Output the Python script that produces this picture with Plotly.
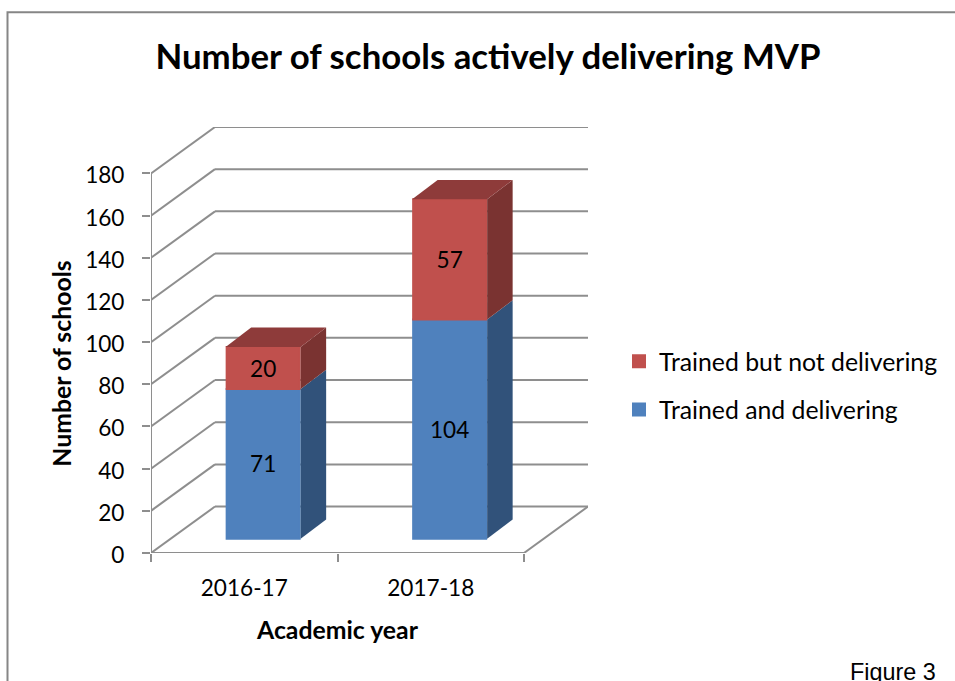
import plotly.graph_objects as go

categories = ["2016-17", "2017-18"]
delivering = [71, 104]
not_delivering = [20, 57]
y_ticks = [0, 20, 40, 60, 80, 100, 120, 140, 160, 180]

BLUE, BLUE_SIDE = "#4F81BD", "#31527A"
RED, RED_SIDE, RED_TOP = "#C0504D", "#7A3331", "#8E3B3A"
GRID = "#8E8E8E"
FONT = "Lato"

# plot-box in window pixels
L, R, T, B = 151.0, 588.0, 127.0, 553.5
PX_X = 186.5           # pixels per category
PX_Y = 380.0 / 180     # pixels per school

wall_dx, wall_dy = 64 / PX_X, 46.5 / PX_Y
gap_dx, gap_dy = 18.9 / PX_X, 14.2 / PX_Y
depth_dx, depth_dy = 25.5 / PX_X, 19.4 / PX_Y
bar_w = 73.0 / PX_X
centres = [i + 0.5 for i in range(len(categories))]
bar_x = [c + gap_dx for c in centres]
n = len(categories)


def px(x):
    return (x - L) / (R - L)


def py(y):
    return (B - y) / (B - T)


fig = go.Figure()
shapes = []


def seg(x0, y0, x1, y1, **kw):
    shapes.append(dict(type="line", xref="x", yref="y", x0=x0, y0=y0, x1=x1, y1=y1,
                       layer="below", line=dict(color=GRID, width=2), **kw))


for t in y_ticks:
    seg(0, t, wall_dx, t + wall_dy)
    seg(wall_dx, t + wall_dy, n + wall_dx, t + wall_dy)
seg(0, 0, 0, y_ticks[-1])
seg(0, 0, n, 0)
seg(n, 0, n + wall_dx, wall_dy)

shapes.append(dict(type="path", xref="paper", yref="paper", layer="below",
                   path=f"M {px(7.5)} {py(690)} L {px(7.5)} {py(12)} L {px(960)} {py(12)}",
                   line=dict(color="#868686", width=2)))

# front faces
bw = bar_w
fig.add_trace(go.Bar(
    x=bar_x, y=delivering, base=[gap_dy] * n, width=bw, name="Trained and delivering",
    marker=dict(color=BLUE, line=dict(color=BLUE, width=2)), text=delivering,
    textposition="inside", insidetextanchor="middle", textangle=0,
    textfont=dict(color="black", size=22.6, family=FONT), legendgroup="a", legendrank=2, hoverinfo="skip"))
fig.add_trace(go.Bar(
    x=bar_x, y=not_delivering, base=[d + gap_dy for d in delivering], width=bw,
    name="Trained but not delivering",
    marker=dict(color=RED, line=dict(color=RED, width=2)), text=not_delivering,
    textposition="inside", insidetextanchor="middle", textangle=0,
    textfont=dict(color="black", size=22.6, family=FONT), legendgroup="b", legendrank=1, hoverinfo="skip"))


def face(xs, ys, colour):
    fig.add_trace(go.Scatter(x=xs, y=ys, fill="toself", fillcolor=colour, mode="none",
                             showlegend=False, hoverinfo="skip"))


half = bw / 2 + 1 / PX_X
for x, d, u in zip(bar_x, delivering, not_delivering):
    r = x + half
    l = x - half
    b0 = gap_dy
    b1 = gap_dy + d
    b2 = b1 + u
    face([r, r + depth_dx, r + depth_dx, r], [b0, b0 + depth_dy, b1 + depth_dy, b1], BLUE_SIDE)
    face([r, r + depth_dx, r + depth_dx, r], [b1, b1 + depth_dy, b2 + depth_dy, b2], RED_SIDE)
    face([l, r, r + depth_dx, l + depth_dx], [b2, b2, b2 + depth_dy, b2 + depth_dy], RED_TOP)

annotations = [
    dict(text="<b>Number of schools</b>", xref="paper", yref="paper", x=px(62), y=py(364),
         xanchor="center", yanchor="middle",
         textangle=-90, showarrow=False, font=dict(size=24.8, color="black", family=FONT)),
    dict(text="<b>Academic year</b>", xref="paper", yref="paper", x=px(337), y=py(630),
         xanchor="center", yanchor="middle",
         showarrow=False, font=dict(size=24.8, color="black", family=FONT)),
    dict(text="Figure 3", xref="paper", yref="paper", x=px(938), y=py(682),
         xanchor="right", yanchor="bottom", yshift=-6, showarrow=False,
         font=dict(size=23.4, color="black", family="Liberation Sans")),
]

fig.update_layout(
    width=955, height=681, autosize=False,
    paper_bgcolor="white", plot_bgcolor="rgba(0,0,0,0)",
    margin=dict(l=L, r=955 - R, t=T, b=681 - B, pad=0),
    barmode="overlay",
    font=dict(family=FONT, color="black", size=22),
    title=dict(text="<b>Number of schools actively delivering MVP</b>",
               x=488 / 955, xanchor="center", y=1 - 57 / 681, yanchor="middle",
               font=dict(size=34.8, color="black", family=FONT)),
    shapes=shapes, annotations=annotations,
    xaxis=dict(range=[0, (R - L) / PX_X], tickmode="array", tickvals=centres, ticktext=categories,
               ticks="", ticklabelstandoff=19, showgrid=False, zeroline=False, showline=False,
               tickfont=dict(size=22.6, color="black", family=FONT),
               minor=dict(tickmode="array", tickvals=list(range(n + 1)), ticks="outside",
                          ticklen=8, tickwidth=2, tickcolor=GRID, showgrid=False)),
    yaxis=dict(range=[0, (B - T) / PX_Y], tickmode="array", tickvals=y_ticks, ticks="outside",
               ticklen=8, tickwidth=2, tickcolor=GRID, ticklabelstandoff=13, ticklabelshift=2,
               showgrid=False, zeroline=False, showline=False,
               tickfont=dict(size=22.6, color="black", family=FONT)),
    legend=dict(x=px(619), y=py(339), xanchor="left", yanchor="top", traceorder="grouped",
                tracegroupgap=13, bgcolor="rgba(0,0,0,0)",
                font=dict(size=24.8, color="black", family=FONT)),
)

fig.write_html("out.html", config=dict(displayModeBar=False),
               post_script="document.body.style.margin='0';")
